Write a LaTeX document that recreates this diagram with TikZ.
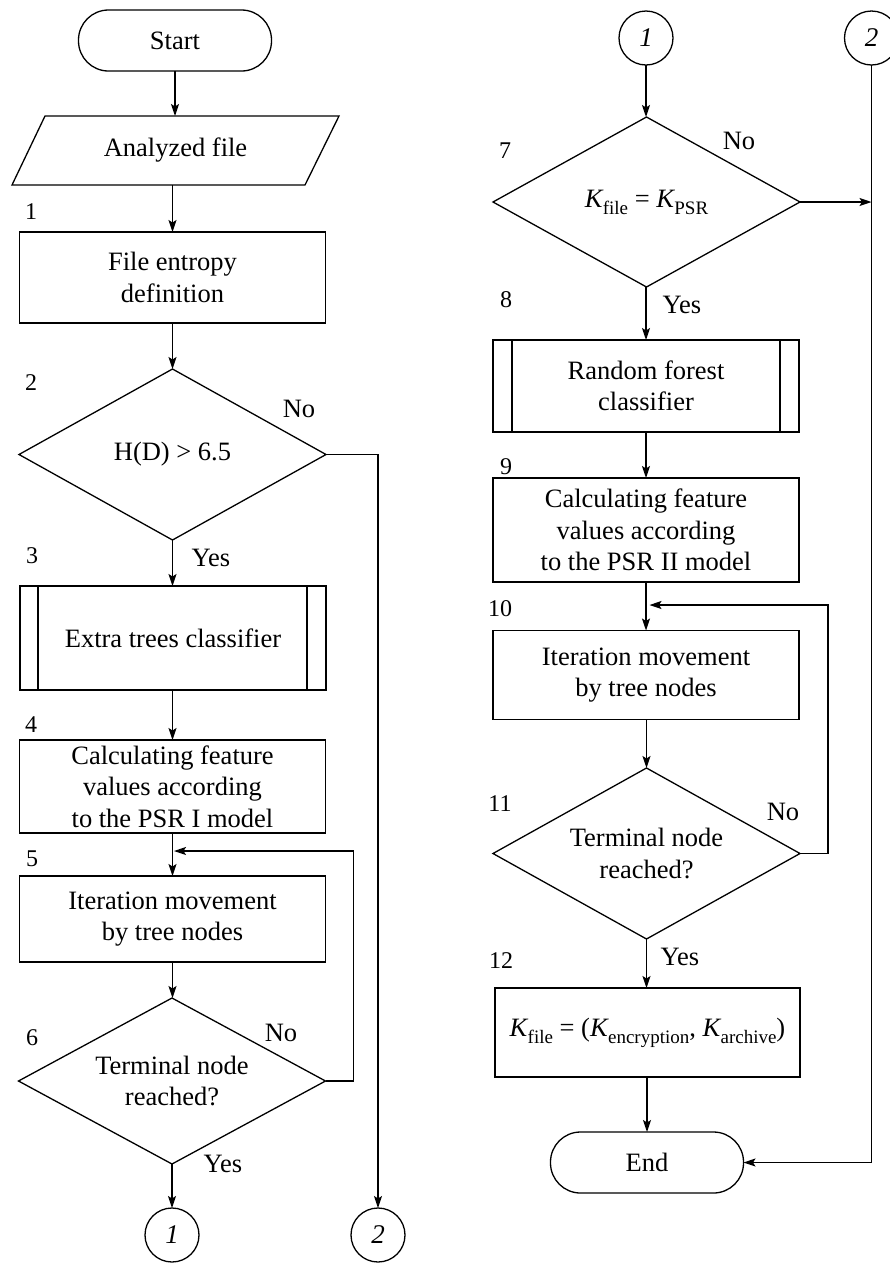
\documentclass[tikz,border=0pt]{standalone}
\usepackage{fontspec}
\setmainfont{Liberation Serif}
\usetikzlibrary{arrows.meta,calc}
\newcommand{\Ksub}[1]{\textit{K}\kern-0.03em\raisebox{-0.27em}{\fontsize{19}{19}\selectfont #1}}
\begin{document}
\begin{tikzpicture}[x=1pt,y=-1pt,
  every node/.style={font=\fontsize{26.5}{31.5}\selectfont, inner sep=0pt, outer sep=0pt},
  line/.style={line width=1.3pt},
  arr/.style={line width=1.3pt,-{Stealth[length=12pt,width=8pt,inset=2.5pt]}},
  terminal/.style={draw, line width=1.3pt, rounded corners=30pt, minimum width=193pt, minimum height=61pt},
  proc/.style={draw, line width=1.3pt, align=center, minimum width=306pt},
  dec/.style={align=center, minimum width=307pt},
  conn/.style={draw, circle, line width=1.3pt, minimum size=54pt, font=\fontsize{27}{30}\selectfont\itshape},
  num/.style={font=\fontsize{24}{24}\selectfont},
  lab/.style={font=\fontsize{26.5}{26.5}\selectfont}
]
\useasboundingbox (0,0) rectangle (890,1278);

% ---------- left column ----------
\node[terminal] (start) at (175,40.5) {Start};
\node[minimum width=327pt, minimum height=69pt] (af) at (175.5,150.5) {Analyzed file};
\draw[line] ($(af.north west)+(33,0)$) -- (af.north east) -- ($(af.south east)+(-34,0)$) -- (af.south west) -- cycle;
\node[proc, minimum height=91pt] (b1) at (172.5,277.5) {File entropy\\definition};
\node[dec, minimum height=171pt] (d2) at (172.5,454.5) {H(D) > 6.5};
\draw[line] (d2.north) -- (d2.east) -- (d2.south) -- (d2.west) -- cycle;
\node[proc, minimum height=104pt] (b3) at (173,638) {Extra trees classifier};
\draw[line] ($(b3.north west)+(18,0)$) -- ($(b3.south west)+(18,0)$);
\draw[line] ($(b3.north east)+(-19,0)$) -- ($(b3.south east)+(-19,0)$);
\node[proc, minimum height=93pt] (b4) at (172.5,786.5) {Calculating feature\\values according\\to the PSR I model};
\node[proc, minimum height=86pt] (b5) at (172.5,919) {Iteration movement\\by tree nodes};
\node[dec, minimum height=166pt] (d6) at (172,1081) {Terminal node\\reached?};
\draw[line] (d6.north) -- (d6.east) -- (d6.south) -- (d6.west) -- cycle;
\node[conn] (c1L) at (172,1235) {1};
\node[conn] (c2L) at (378,1235) {2};
\coordinate (loopL) at (174,851);

% left labels
\node[num] (n1) at (31,212) {1};
\node[num] (n2) at (31,383) {2};
\node[num] (n3) at (32,556) {3};
\node[num] (n4) at (31,725) {4};
\node[num] (n5) at (32,859) {5};
\node[num] (n6) at (32,1038) {6};
\node[lab] (no2) at (299,409) {No};
\node[lab] (yes2) at (211,558) {Yes};
\node[lab] (no6) at (281,1033) {No};
\node[lab] (yes6) at (223,1164) {Yes};

% left connectors
\draw[arr] (start.south) -- (start.south |- af.north);
\draw[arr] (af.south -| b1.north) -- (b1.north);
\draw[arr] (b1.south) -- (d2.north);
\draw[arr] (d2.south) -- (d2.south |- b3.north);
\draw[arr] (b3.south -| b4.north) -- (b4.north);
\draw[arr] (b4.south) -- (b5.north);
\draw[arr] (b5.south) -- (b5.south |- d6.north);
\draw[arr] (d6.south) -- (d6.south |- c1L.north);
\draw[arr] (d2.east) -| (c2L.north);
\draw[arr] (d6.east) -- ++(28,0) |- (loopL);

% ---------- right column ----------
\node[conn] (c1R) at (646,38) {1};
\node[conn] (c2R) at (871.5,38) {2};
\node[dec, minimum height=170pt] (d7) at (646.5,202) {\Ksub{file} = \Ksub{PSR}};
\draw[line] (d7.north) -- (d7.east) -- (d7.south) -- (d7.west) -- cycle;
\node[proc, minimum height=92pt] (b8) at (646,386) {Random forest\\classifier};
\draw[line] ($(b8.north west)+(19,0)$) -- ($(b8.south west)+(19,0)$);
\draw[line] ($(b8.north east)+(-19,0)$) -- ($(b8.south east)+(-19,0)$);
\node[proc, minimum height=104pt] (b9) at (646,530) {Calculating feature\\values according\\to the PSR II model};
\node[proc, minimum height=89pt] (b10) at (646,675) {Iteration movement\\by tree nodes};
\node[dec, minimum height=171pt] (d11) at (646.5,853.5) {Terminal node\\reached?};
\draw[line] (d11.north) -- (d11.east) -- (d11.south) -- (d11.west) -- cycle;
\node[proc, minimum width=305pt, minimum height=89pt] (b12) at (647.5,1032.5) {\Ksub{file} = (\Ksub{encryption}, \Ksub{archive})};
\node[terminal] (end) at (647,1162.5) {End};
\coordinate (loopR) at (649.5,605);

% right labels
\node[num] (n7) at (505,151) {7};
\node[num] (n8) at (506,300) {8};
\node[num] (n9) at (506,467) {9};
\node[num] (n10) at (500,609) {10};
\node[num] (n11) at (500,804) {11};
\node[num] (n12) at (501,961) {12};
\node[lab] (no7) at (739,141) {No};
\node[lab] (yes7) at (682,305) {Yes};
\node[lab] (no11) at (783,812) {No};
\node[lab] (yes11) at (680,957) {Yes};

% right connectors
\draw[arr] (c1R.south) -- (c1R.south |- d7.north);
\draw[arr] (d7.east) -- (d7.east -| c2R.south);
\draw[arr] (c2R.south) |- (end.east);
\draw[arr] (d7.south -| b8.north) -- (b8.north);
\draw[arr] (b8.south) -- (b9.north);
\draw[arr] (b9.south) -- (b10.north);
\draw[arr] (b10.south -| d11.north) -- (d11.north);
\draw[arr] (d11.south) -- (d11.south |- b12.north);
\draw[arr] (b12.south -| end.north) -- (end.north);
\draw[arr] (d11.east) -- ++(28,0) |- (loopR);
\end{tikzpicture}
\end{document}
